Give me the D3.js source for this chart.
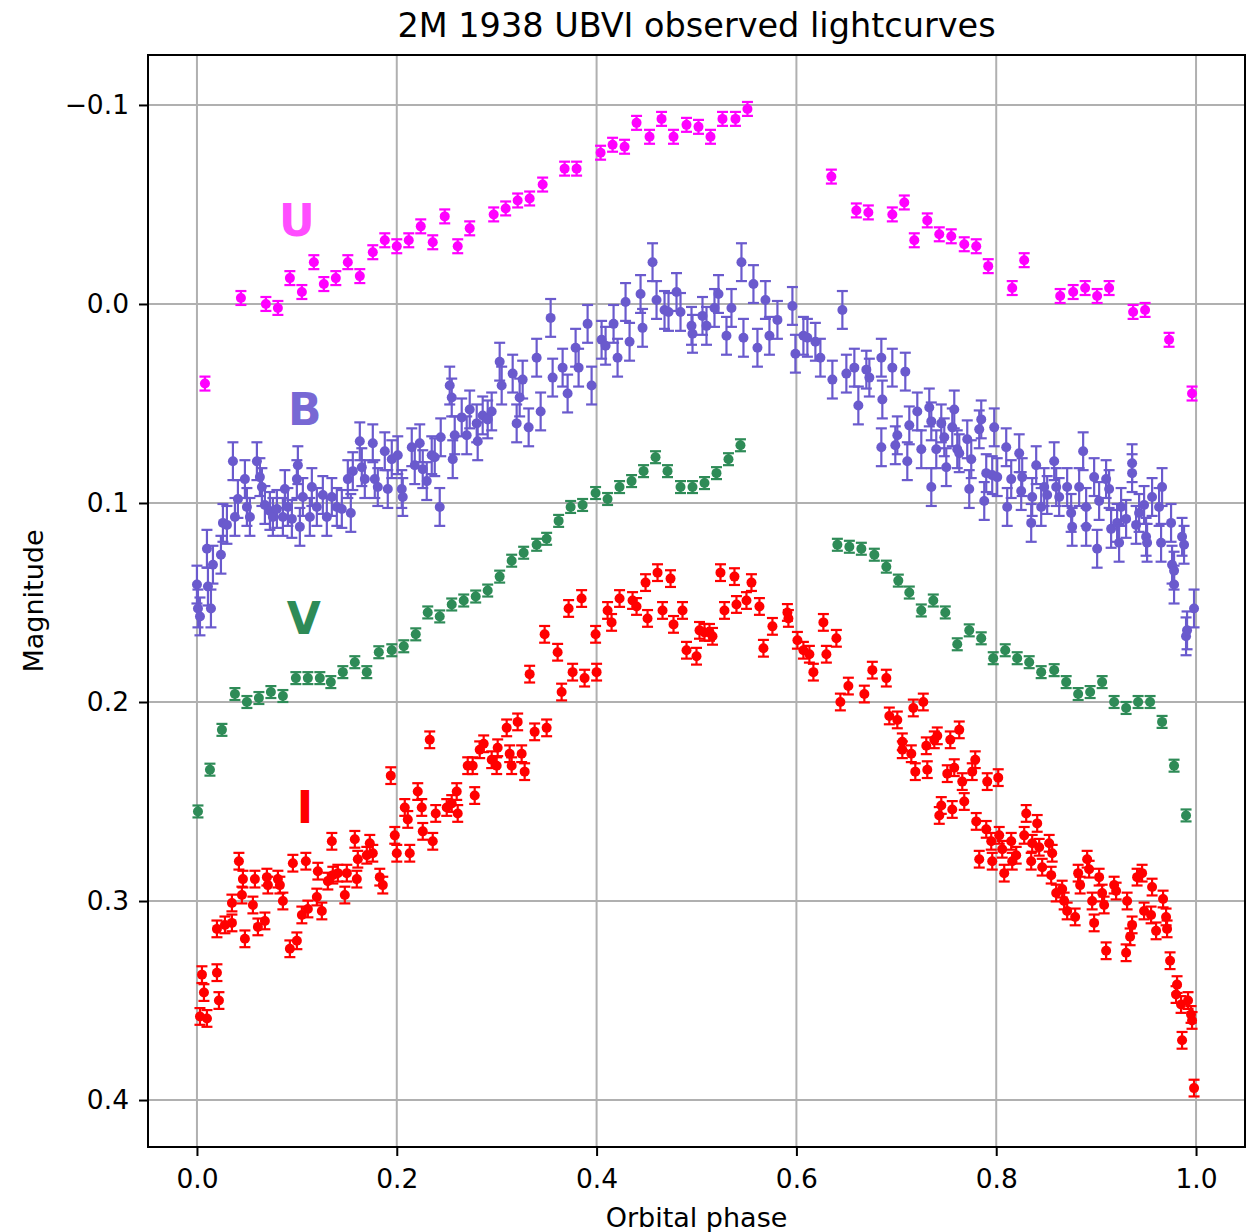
<!DOCTYPE html>
<html>
<head>
<meta charset="utf-8">
<script src="https://cdn.jsdelivr.net/npm/d3@7"></script>
<style>
  body { margin: 0; background: #fff; }
  text { font-family: "DejaVu Sans", sans-serif; }
</style>
</head>
<body>
<div id="chart"></div>
<script>
// --- data: [phase, magnitude] ---
const uData = [
  [0.008, 0.040], [0.044, -0.003], [0.069, 0.000], [0.081, 0.002], [0.093, -0.013],
  [0.105, -0.006], [0.117, -0.021], [0.127, -0.010], [0.139, -0.013], [0.151, -0.021],
  [0.163, -0.014], [0.176, -0.026], [0.188, -0.032], [0.200, -0.029], [0.212, -0.032],
  [0.224, -0.039], [0.236, -0.031], [0.248, -0.044], [0.261, -0.029], [0.273, -0.038],
  [0.297, -0.045], [0.309, -0.048], [0.321, -0.052], [0.333, -0.053], [0.346, -0.060],
  [0.368, -0.068], [0.380, -0.068], [0.404, -0.076], [0.416, -0.080], [0.428, -0.079],
  [0.440, -0.091], [0.453, -0.084], [0.465, -0.093], [0.477, -0.084], [0.490, -0.090],
  [0.502, -0.089], [0.514, -0.084], [0.526, -0.093], [0.539, -0.093], [0.551, -0.098],
  [0.635, -0.064], [0.660, -0.047], [0.672, -0.046], [0.696, -0.045], [0.708, -0.051],
  [0.718, -0.032], [0.731, -0.042], [0.743, -0.035], [0.755, -0.034], [0.768, -0.030],
  [0.780, -0.029], [0.792, -0.019], [0.816, -0.008], [0.828, -0.022], [0.864, -0.004],
  [0.877, -0.006], [0.889, -0.008], [0.901, -0.004], [0.913, -0.008], [0.937, 0.004],
  [0.949, 0.003], [0.973, 0.018], [0.996, 0.045]
];

const bData = [
  [0.000, 0.141], [0.001, 0.153], [0.003, 0.157], [0.010, 0.123], [0.011, 0.142],
  [0.014, 0.153], [0.016, 0.131], [0.024, 0.126], [0.026, 0.110], [0.030, 0.111],
  [0.036, 0.079], [0.038, 0.107], [0.041, 0.098], [0.048, 0.088], [0.050, 0.102],
  [0.053, 0.107], [0.060, 0.079], [0.063, 0.087], [0.065, 0.092], [0.068, 0.101],
  [0.073, 0.104], [0.076, 0.107], [0.080, 0.103], [0.086, 0.107], [0.088, 0.093],
  [0.091, 0.102], [0.095, 0.108], [0.100, 0.088], [0.101, 0.081], [0.103, 0.112],
  [0.106, 0.097], [0.113, 0.107], [0.115, 0.092], [0.120, 0.102], [0.126, 0.096],
  [0.130, 0.107], [0.135, 0.097], [0.140, 0.102], [0.145, 0.103], [0.151, 0.088],
  [0.154, 0.105], [0.156, 0.084], [0.163, 0.069], [0.165, 0.082], [0.168, 0.088],
  [0.176, 0.070], [0.178, 0.088], [0.181, 0.092], [0.188, 0.074], [0.191, 0.093],
  [0.195, 0.078], [0.201, 0.076], [0.205, 0.093], [0.206, 0.097], [0.215, 0.072],
  [0.218, 0.081], [0.223, 0.070], [0.226, 0.083], [0.230, 0.089], [0.235, 0.076],
  [0.238, 0.077], [0.243, 0.102], [0.244, 0.067], [0.253, 0.041], [0.255, 0.047],
  [0.256, 0.078], [0.258, 0.066], [0.265, 0.057], [0.270, 0.066], [0.273, 0.053],
  [0.280, 0.060], [0.281, 0.069], [0.286, 0.056], [0.291, 0.058], [0.295, 0.054],
  [0.303, 0.029], [0.305, 0.041], [0.316, 0.035], [0.320, 0.060], [0.323, 0.047],
  [0.326, 0.038], [0.332, 0.062], [0.340, 0.027], [0.344, 0.054], [0.354, 0.007],
  [0.356, 0.037], [0.366, 0.032], [0.371, 0.045], [0.379, 0.022], [0.382, 0.032],
  [0.391, 0.010], [0.395, 0.041], [0.405, 0.018], [0.409, 0.021], [0.417, 0.010],
  [0.421, 0.027], [0.429, -0.001], [0.433, 0.019], [0.444, -0.005], [0.446, 0.012],
  [0.456, -0.021], [0.460, -0.002], [0.468, 0.003], [0.472, 0.004], [0.480, -0.006],
  [0.484, 0.004], [0.495, 0.011], [0.496, 0.015], [0.506, 0.006], [0.510, 0.011],
  [0.518, 0.002], [0.522, -0.005], [0.530, 0.016], [0.535, 0.002], [0.545, -0.021],
  [0.547, 0.017], [0.557, -0.010], [0.561, 0.022], [0.569, -0.002], [0.573, 0.016],
  [0.581, 0.008], [0.596, 0.001], [0.599, 0.025], [0.607, 0.016], [0.611, 0.017],
  [0.619, 0.019], [0.624, 0.027], [0.636, 0.038], [0.646, 0.003], [0.650, 0.035],
  [0.658, 0.032], [0.662, 0.051], [0.670, 0.033], [0.673, 0.037], [0.685, 0.027],
  [0.685, 0.072], [0.686, 0.048], [0.696, 0.032], [0.699, 0.071], [0.701, 0.066],
  [0.709, 0.034], [0.711, 0.079], [0.713, 0.061], [0.721, 0.054], [0.725, 0.073],
  [0.733, 0.052], [0.735, 0.092], [0.735, 0.059], [0.740, 0.073], [0.745, 0.060],
  [0.748, 0.067], [0.750, 0.082], [0.756, 0.062], [0.758, 0.053], [0.761, 0.073],
  [0.763, 0.075], [0.771, 0.068], [0.773, 0.093], [0.775, 0.078], [0.783, 0.063],
  [0.785, 0.058], [0.788, 0.099], [0.790, 0.085], [0.796, 0.086], [0.798, 0.062],
  [0.801, 0.087], [0.810, 0.072], [0.811, 0.102], [0.815, 0.088], [0.823, 0.075],
  [0.825, 0.094], [0.826, 0.087], [0.835, 0.110], [0.836, 0.097], [0.840, 0.081],
  [0.845, 0.102], [0.848, 0.092], [0.851, 0.096], [0.858, 0.079], [0.860, 0.092],
  [0.863, 0.097], [0.871, 0.092], [0.875, 0.105], [0.876, 0.112], [0.883, 0.092],
  [0.887, 0.074], [0.890, 0.102], [0.890, 0.112], [0.898, 0.087], [0.901, 0.123],
  [0.903, 0.099], [0.910, 0.088], [0.913, 0.093], [0.915, 0.113], [0.921, 0.110],
  [0.923, 0.120], [0.925, 0.102], [0.930, 0.108], [0.936, 0.080], [0.936, 0.085],
  [0.940, 0.111], [0.943, 0.105], [0.948, 0.101], [0.950, 0.117], [0.951, 0.120],
  [0.956, 0.097], [0.963, 0.102], [0.965, 0.120], [0.966, 0.092], [0.975, 0.110],
  [0.976, 0.131], [0.978, 0.134], [0.978, 0.141], [0.986, 0.117], [0.988, 0.121],
  [0.990, 0.167], [0.991, 0.164], [0.998, 0.153]
];

const vData = [
  [0.001, 0.255], [0.013, 0.234], [0.025, 0.214], [0.038, 0.196], [0.050, 0.200],
  [0.062, 0.198], [0.074, 0.195], [0.086, 0.197], [0.099, 0.188], [0.111, 0.188],
  [0.123, 0.188], [0.134, 0.190], [0.146, 0.185], [0.158, 0.180], [0.170, 0.185],
  [0.182, 0.175], [0.195, 0.174], [0.207, 0.172], [0.219, 0.166], [0.231, 0.155],
  [0.243, 0.157], [0.255, 0.151], [0.267, 0.149], [0.279, 0.147], [0.291, 0.144],
  [0.303, 0.137], [0.315, 0.129], [0.327, 0.125], [0.340, 0.121], [0.350, 0.118],
  [0.362, 0.109], [0.374, 0.102], [0.386, 0.101], [0.399, 0.095], [0.411, 0.098],
  [0.423, 0.092], [0.435, 0.089], [0.447, 0.084], [0.459, 0.077], [0.471, 0.084],
  [0.484, 0.092], [0.496, 0.092], [0.508, 0.090], [0.520, 0.085], [0.532, 0.078],
  [0.544, 0.071],
  [0.641, 0.121], [0.653, 0.122], [0.665, 0.123], [0.678, 0.126], [0.690, 0.132],
  [0.702, 0.139], [0.713, 0.145], [0.725, 0.154], [0.737, 0.149], [0.749, 0.155],
  [0.761, 0.171], [0.773, 0.164], [0.785, 0.168], [0.797, 0.178], [0.809, 0.174],
  [0.821, 0.178], [0.833, 0.180], [0.845, 0.185], [0.858, 0.184], [0.870, 0.190],
  [0.882, 0.196], [0.894, 0.195], [0.906, 0.190], [0.918, 0.200], [0.930, 0.203],
  [0.942, 0.200], [0.954, 0.200], [0.966, 0.210], [0.978, 0.232], [0.990, 0.257]
];

const iData = [
  [0.003, 0.358], [0.005, 0.337], [0.007, 0.346], [0.010, 0.359], [0.020, 0.336],
  [0.020, 0.314], [0.022, 0.350], [0.028, 0.312], [0.035, 0.301], [0.035, 0.311],
  [0.042, 0.280], [0.045, 0.297], [0.046, 0.289], [0.048, 0.319], [0.056, 0.302],
  [0.058, 0.289], [0.061, 0.313], [0.068, 0.310], [0.070, 0.288], [0.071, 0.292],
  [0.081, 0.289], [0.083, 0.292], [0.086, 0.300], [0.093, 0.324], [0.096, 0.281],
  [0.100, 0.320], [0.105, 0.307], [0.109, 0.280], [0.111, 0.304], [0.120, 0.298],
  [0.121, 0.285], [0.125, 0.305], [0.131, 0.290], [0.135, 0.270], [0.136, 0.287],
  [0.141, 0.286], [0.148, 0.297], [0.150, 0.286], [0.158, 0.269], [0.160, 0.289],
  [0.161, 0.279], [0.170, 0.277], [0.173, 0.271], [0.176, 0.276], [0.183, 0.288],
  [0.186, 0.292], [0.194, 0.237], [0.198, 0.267], [0.200, 0.276], [0.208, 0.253],
  [0.211, 0.259], [0.213, 0.276], [0.221, 0.245], [0.225, 0.253], [0.226, 0.265],
  [0.233, 0.219], [0.236, 0.270], [0.239, 0.256], [0.250, 0.253], [0.255, 0.251],
  [0.260, 0.245], [0.261, 0.256], [0.271, 0.232], [0.276, 0.232], [0.278, 0.247],
  [0.283, 0.224], [0.287, 0.221], [0.295, 0.229], [0.300, 0.232], [0.301, 0.223],
  [0.310, 0.213], [0.313, 0.226], [0.315, 0.232], [0.321, 0.210], [0.325, 0.226],
  [0.328, 0.235], [0.333, 0.186], [0.338, 0.215], [0.348, 0.166], [0.350, 0.213],
  [0.361, 0.175], [0.365, 0.195], [0.372, 0.153], [0.376, 0.185], [0.385, 0.148],
  [0.388, 0.188], [0.399, 0.166], [0.400, 0.185], [0.411, 0.154], [0.415, 0.160],
  [0.423, 0.148], [0.436, 0.149], [0.440, 0.152], [0.449, 0.140], [0.451, 0.158],
  [0.461, 0.135], [0.466, 0.154], [0.474, 0.138], [0.477, 0.161], [0.486, 0.154],
  [0.490, 0.174], [0.500, 0.177], [0.503, 0.164], [0.508, 0.165], [0.513, 0.165],
  [0.516, 0.167], [0.524, 0.135], [0.528, 0.154], [0.538, 0.137], [0.540, 0.151],
  [0.550, 0.149], [0.555, 0.140], [0.563, 0.152], [0.567, 0.173], [0.576, 0.162],
  [0.591, 0.155], [0.592, 0.158], [0.601, 0.169], [0.607, 0.174], [0.613, 0.176],
  [0.617, 0.185], [0.627, 0.160], [0.630, 0.176], [0.640, 0.168], [0.644, 0.200],
  [0.652, 0.192], [0.668, 0.196], [0.676, 0.184], [0.690, 0.188], [0.693, 0.207],
  [0.701, 0.209], [0.706, 0.220], [0.706, 0.224], [0.715, 0.226], [0.717, 0.203],
  [0.719, 0.235], [0.727, 0.200], [0.730, 0.222], [0.731, 0.234], [0.738, 0.219],
  [0.741, 0.217], [0.743, 0.257], [0.745, 0.252], [0.751, 0.236], [0.754, 0.219],
  [0.756, 0.254], [0.758, 0.233], [0.763, 0.214], [0.766, 0.240], [0.768, 0.250],
  [0.776, 0.235], [0.779, 0.229], [0.780, 0.260], [0.783, 0.279], [0.790, 0.264],
  [0.791, 0.240], [0.795, 0.270], [0.796, 0.280], [0.802, 0.238], [0.803, 0.267],
  [0.806, 0.274], [0.808, 0.286], [0.815, 0.270], [0.816, 0.280], [0.820, 0.277],
  [0.828, 0.267], [0.830, 0.256], [0.835, 0.280], [0.836, 0.271], [0.841, 0.261],
  [0.843, 0.273], [0.846, 0.283], [0.853, 0.271], [0.855, 0.287], [0.856, 0.276],
  [0.860, 0.296], [0.866, 0.294], [0.868, 0.300], [0.871, 0.305], [0.879, 0.308],
  [0.882, 0.286], [0.884, 0.292], [0.891, 0.279], [0.893, 0.284], [0.896, 0.300],
  [0.898, 0.311], [0.903, 0.288], [0.906, 0.296], [0.908, 0.302], [0.910, 0.325],
  [0.918, 0.292], [0.920, 0.295], [0.930, 0.326], [0.931, 0.300], [0.934, 0.318],
  [0.936, 0.312], [0.941, 0.288], [0.946, 0.286], [0.948, 0.305], [0.955, 0.307],
  [0.956, 0.293], [0.960, 0.315], [0.967, 0.299], [0.970, 0.308], [0.971, 0.314],
  [0.974, 0.330], [0.980, 0.347], [0.981, 0.342], [0.985, 0.352], [0.986, 0.370],
  [0.992, 0.350], [0.995, 0.357], [0.996, 0.360], [0.998, 0.394]
];

// typical 1-sigma error per band
const bandErrors = { U: 0.0035, B: 0.0095, V: 0.003, I: 0.0042 };
const bandColors = { U: "#ff00ff", B: "#6a5acd", V: "#2e8b57", I: "#ff0000" };
const labelColors = { U: "#ff4dff", B: "#7868d4", V: "#2e8b57", I: "#ff0000" };
// label anchor in data coords [phase, magnitude]
const labelPos = { U: [0.100, -0.034], B: [0.108, 0.061], V: [0.107, 0.166], I: [0.108, 0.261] };

const xTicks = [0.0, 0.2, 0.4, 0.6, 0.8, 1.0];
const yTicks = [-0.1, 0.0, 0.1, 0.2, 0.3, 0.4];

const width = 1250, height = 1232;
const margin = { left: 148, right: 5, top: 55, bottom: 85 };

const svg = d3.select("#chart").append("svg")
  .attr("width", width)
  .attr("height", height);

svg.append("rect").attr("width", width).attr("height", height).attr("fill", "#fff");

const x = d3.scaleLinear()
  .domain([-0.049, 1.049])
  .range([margin.left, width - margin.right]);

// magnitudes: brighter (smaller) at top
const y = d3.scaleLinear()
  .domain([-0.1251, 0.4236])
  .range([margin.top, height - margin.bottom]);

// grid
svg.append("g").selectAll("line")
  .data(xTicks).enter().append("line")
  .attr("x1", d => x(d)).attr("x2", d => x(d))
  .attr("y1", y.range()[0]).attr("y2", y.range()[1])
  .attr("stroke", "#b0b0b0").attr("stroke-width", 2);

svg.append("g").selectAll("line")
  .data(yTicks).enter().append("line")
  .attr("y1", d => y(d)).attr("y2", d => y(d))
  .attr("x1", x.range()[0]).attr("x2", x.range()[1])
  .attr("stroke", "#b0b0b0").attr("stroke-width", 2);

// error bars + markers
const bands = [["U", uData], ["B", bData], ["V", vData], ["I", iData]];
const capHalf = 5.5;

bands.forEach(([name, data]) => {
  const err = bandErrors[name];
  const col = bandColors[name];
  const g = svg.append("g").attr("class", "band-" + name);

  let pts = g.selectAll("g.pt")
    .data(data)
    .enter().append("g")
    .attr("class", "pt");

  pts.append("line")
    .attr("x1", d => x(d[0])).attr("x2", d => x(d[0]))
    .attr("y1", d => y(d[1] - err)).attr("y2", d => y(d[1] + err))
    .attr("stroke", col).attr("stroke-width", 2.2);

  [-1, 1].forEach(s => {
    pts.append("line")
      .attr("x1", d => x(d[0]) - capHalf).attr("x2", d => x(d[0]) + capHalf)
      .attr("y1", d => y(d[1] + s * err)).attr("y2", d => y(d[1] + s * err))
      .attr("stroke", col).attr("stroke-width", 2.2);
  });

  pts.append("circle")
    .attr("cx", d => x(d[0]))
    .attr("cy", d => y(d[1]))
    .attr("r", 5)
    .attr("fill", col);

  svg.append("text")
    .attr("x", x(labelPos[name][0]))
    .attr("y", y(labelPos[name][1]))
    .attr("text-anchor", "middle")
    .style("font-size", "44px")
    .style("font-weight", "bold")
    .style("fill", labelColors[name])
    .text(name);
});

// axes
const xAxis = d3.axisBottom(x)
  .tickValues(xTicks)
  .tickFormat(d3.format(".1f"))
  .tickSize(9)
  .tickPadding(13);

const yAxis = d3.axisLeft(y)
  .tickValues(yTicks)
  .tickFormat(d3.format(".1f"))
  .tickSize(9)
  .tickPadding(10);

const gx = svg.append("g")
  .attr("transform", `translate(0,${y.range()[1]})`)
  .call(xAxis);
const gy = svg.append("g")
  .attr("transform", `translate(${x.range()[0]},0)`)
  .call(yAxis);

[gx, gy].forEach(g => {
  g.select(".domain").remove();
  g.selectAll(".tick line").attr("stroke", "#000").attr("stroke-width", 2);
  g.selectAll(".tick text")
    .style("font-family", "DejaVu Sans")
    .style("font-size", "26.5px")
    .attr("fill", "#000");
});

// frame
svg.append("rect")
  .attr("x", x.range()[0]).attr("y", y.range()[0])
  .attr("width", x.range()[1] - x.range()[0])
  .attr("height", y.range()[1] - y.range()[0])
  .attr("fill", "none")
  .attr("stroke", "#000")
  .attr("stroke-width", 2);

// titles
svg.append("text")
  .attr("x", (x.range()[0] + x.range()[1]) / 2)
  .attr("y", 37)
  .attr("text-anchor", "middle")
  .style("font-size", "33.5px")
  .text("2M 1938 UBVI observed lightcurves");

svg.append("text")
  .attr("x", (x.range()[0] + x.range()[1]) / 2)
  .attr("y", 1227)
  .attr("text-anchor", "middle")
  .style("font-size", "27px")
  .text("Orbital phase");

svg.append("text")
  .attr("transform", `translate(43,${(y.range()[0] + y.range()[1]) / 2}) rotate(-90)`)
  .attr("text-anchor", "middle")
  .style("font-size", "27px")
  .text("Magnitude");
</script>
</body>
</html>
